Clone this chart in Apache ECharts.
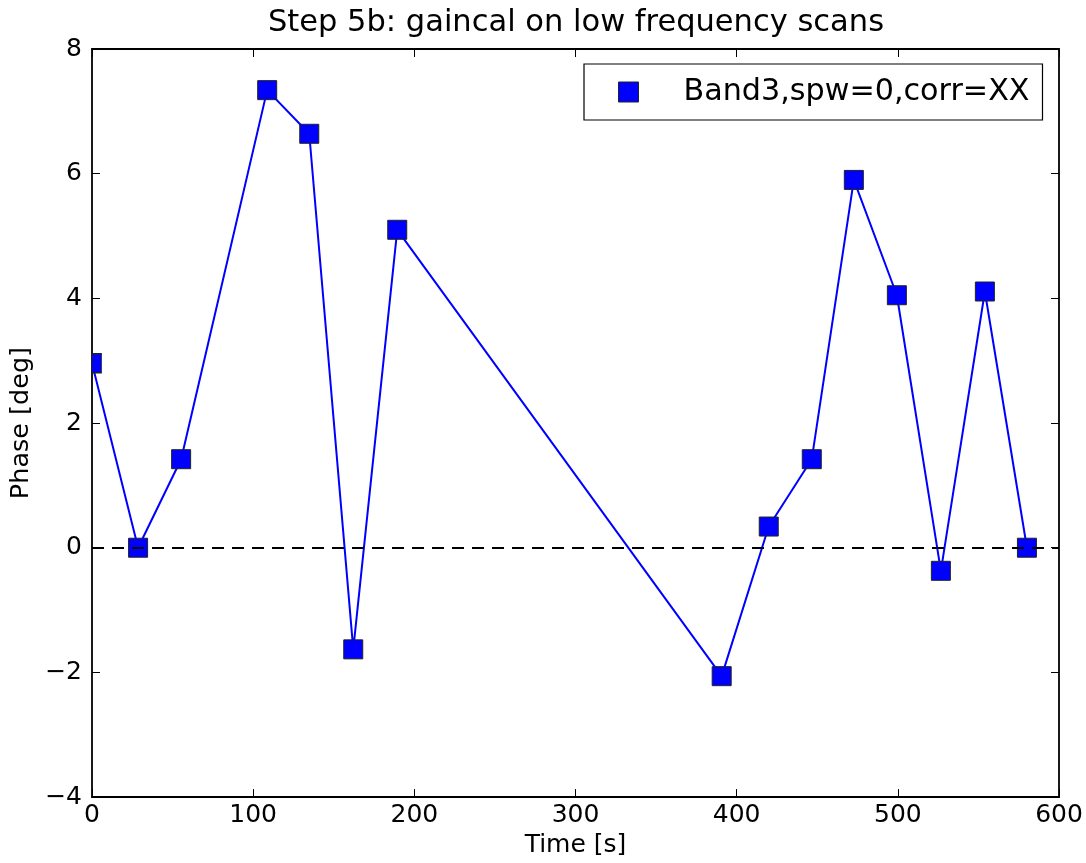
<!DOCTYPE html>
<html>
<head>
<meta charset="utf-8">
<script src="https://cdn.jsdelivr.net/npm/echarts@6/dist/echarts.min.js"></script>
<style>
html,body{margin:0;padding:0;background:#fff;}
#chart{width:1086px;height:863px;}
</style>
</head>
<body>
<div id="chart"></div>
<script>
const titleText = 'Step 5b: gaincal on low frequency scans';
const seriesName = 'Band3,spw=0,corr=XX';
const xLabel = 'Time [s]';
const yLabel = 'Phase [deg]';
const times = [0, 28.6, 55.3, 108.7, 134.8, 162.1, 189.4, 390.7, 419.9, 446.6, 472.7, 499.4, 526.7, 554.0, 580.1];
const phases = [2.96, 0, 1.42, 7.34, 6.64, -1.63, 5.10, -2.06, 0.34, 1.42, 5.90, 4.05, -0.37, 4.11, 0];
const xTicks = [0, 100, 200, 300, 400, 500, 600];
const yTicks = [-4, -2, 0, 2, 4, 6, 8];
const refLine = 0;

const FONT = 'DejaVu Sans';
const SYM = 19;
const fmt = v => String(v).replace('-', '\u2212');
const chart = echarts.init(document.getElementById('chart'), null, {renderer: 'canvas'});

const axisLine = {show: true, onZero: false, lineStyle: {color: '#000', width: 1.8}};
const baseX = {
  type: 'value', min: xTicks[0], max: xTicks[xTicks.length - 1], interval: 100,
  axisLine: axisLine, splitLine: {show: false},
  axisTick: {show: true, inside: true, length: 8, lineStyle: {color: '#000', width: 1}}
};
const baseY = {
  type: 'value', min: yTicks[0], max: yTicks[yTicks.length - 1], interval: 2,
  axisLine: axisLine, splitLine: {show: false},
  axisTick: {show: true, inside: true, length: 8, lineStyle: {color: '#000', width: 1}}
};

// markers sitting on the plot edge are clipped by the axes frame (half visible)
const seriesData = times.map((t, i) => {
  if (t === xTicks[0]) {
    return {value: [t, phases[i]], symbolSize: [SYM / 2, SYM], symbolOffset: [SYM / 4, 0]};
  }
  return [t, phases[i]];
});

chart.setOption({
  backgroundColor: '#fff',
  animation: false,
  title: {
    text: titleText, left: 571, top: 3, textAlign: 'center',
    textStyle: {fontFamily: FONT, fontSize: 30.5, fontWeight: 'normal', color: '#000'}
  },
  grid: {left: 92, right: 27, top: 49, bottom: 64},
  legend: {
    show: true, left: 584, top: 64,
    orient: 'horizontal',
    data: [{name: seriesName, icon: 'rect'}],
    itemWidth: 20, itemHeight: 20,
    padding: [13, 13, 13, 34],
    borderColor: '#000', borderWidth: 1.2, borderRadius: 0,
    backgroundColor: '#fff',
    itemStyle: {color: '#0000ff', borderColor: '#222', borderWidth: 1},
    textStyle: {fontFamily: FONT, fontSize: 30.2, color: '#000', padding: [0, 0, 0, 40]}
  },
  xAxis: [
    Object.assign({}, baseX, {
      position: 'bottom', name: xLabel, nameLocation: 'middle', nameGap: 33,
      nameTextStyle: {fontFamily: FONT, fontSize: 25, color: '#000'},
      axisLabel: {fontFamily: FONT, fontSize: 25, color: '#000', margin: 6, formatter: fmt}
    }),
    Object.assign({}, baseX, {position: 'top', axisLabel: {show: false}})
  ],
  yAxis: [
    Object.assign({}, baseY, {
      position: 'left', name: yLabel, nameLocation: 'middle', nameGap: 57,
      nameTextStyle: {fontFamily: FONT, fontSize: 25.5, color: '#000'},
      axisLabel: {fontFamily: FONT, fontSize: 25, color: '#000', margin: 10, formatter: fmt}
    }),
    Object.assign({}, baseY, {position: 'right', axisLabel: {show: false}})
  ],
  series: [{
    name: seriesName,
    type: 'line',
    data: seriesData,
    symbol: 'rect', symbolSize: SYM,
    lineStyle: {color: '#0000ff', width: 2},
    itemStyle: {color: '#0000ff', borderColor: '#222', borderWidth: 1},
    z: 3,
    markLine: {
      silent: true, symbol: 'none', label: {show: false},
      lineStyle: {color: '#000', width: 1.8, type: [12, 8]},
      data: [{yAxis: refLine}]
    }
  }]
});
</script>
</body>
</html>
